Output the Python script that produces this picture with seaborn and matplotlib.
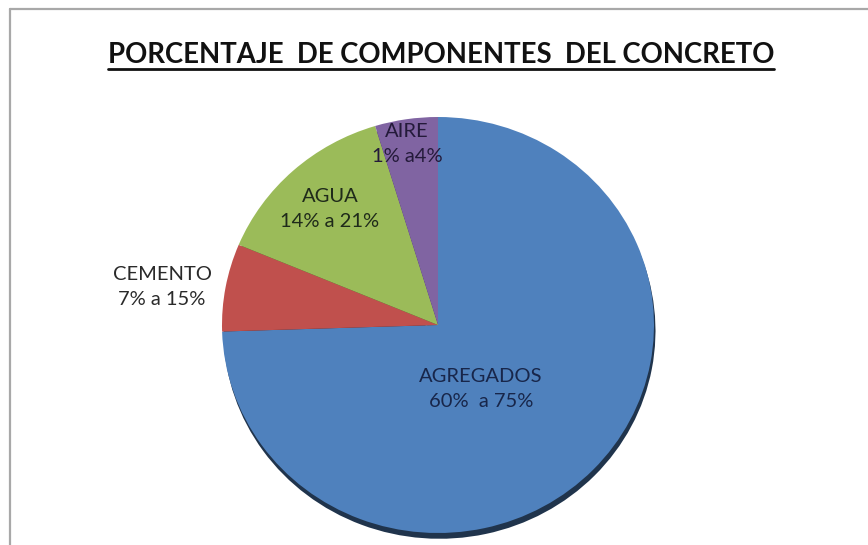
import matplotlib
matplotlib.use("Agg")
import matplotlib.pyplot as plt
import seaborn as sns
from matplotlib.lines import Line2D

sns.set_theme(style="white")
plt.rcParams['font.family'] = ['Lato', 'DejaVu Sans']

categories = ["AGREGADOS", "CEMENTO", "AGUA", "AIRE"]
values = [74.5, 6.8, 14.0, 4.7]
ranges = ["60%  a 75%", "7% a 15%", "14% a 21%", "1% a4%"]
colors = ["#4F81BD", "#C0504D", "#9BBB59", "#8064A2"]
title = "PORCENTAJE  DE COMPONENTES  DEL CONCRETO"

W, H = 868, 545
fig = plt.figure(figsize=(W / 100, H / 100), dpi=100)
fig.patch.set_facecolor("white")

# border (top and left only visible)
bx, by = 10 / W, 1 - 9 / H
fig.add_artist(Line2D([bx, 1.0], [by, by], transform=fig.transFigure, color="#a8a8a8", linewidth=1.6))
fig.add_artist(Line2D([bx, bx], [0.0, by], transform=fig.transFigure, color="#a8a8a8", linewidth=1.6))

cx, cy, rx, ry = 438, 325, 216, 208
ax = fig.add_axes([(cx - rx) / W, (H - cy - ry) / H, 2 * rx / W, 2 * ry / H])
ax.pie(values, colors=colors, startangle=90, counterclock=False, radius=1.0,
       wedgeprops=dict(linewidth=0),
       shadow=dict(ox=0.005, oy=-0.02, shade=0.6, alpha=1.0))
ax.set_xlim(-1, 1)
ax.set_ylim(-1, 1)
ax.set_aspect("auto")
ax.axis("off")

def to_ax(px, py):
    return ((px - (cx - rx)) / (2 * rx), 1 - (py - (cy - ry)) / (2 * ry))

label_pos = {"AGREGADOS": (481, 389), "CEMENTO": (162, 287), "AGUA": (330, 209), "AIRE": (407, 144)}
label_col = {"AGREGADOS": "#18264a", "CEMENTO": "#2a2a2a", "AGUA": "#1f2a1a", "AIRE": "#241a3a"}
for cat, rng in zip(categories, ranges):
    x, y = to_ax(*label_pos[cat])
    ax.text(x, y, f"{cat}\n{rng}", transform=ax.transAxes, ha="center", va="center",
            fontsize=14.5, color=label_col[cat], linespacing=1.6, clip_on=False)

renderer = fig.canvas.get_renderer()
fs = 24
t = fig.text(441 / W, 1 - 55 / H, title, ha="center", va="center", fontsize=fs,
             fontweight="bold", color="#111111")
bb = t.get_window_extent(renderer=renderer)
t.set_fontsize(fs * 668 / bb.width)
fig.canvas.draw()
bb = t.get_window_extent(renderer=renderer)
inv = fig.transFigure.inverted()
(x0, y0), (x1, y1) = inv.transform([(bb.x0, bb.y0), (bb.x1, bb.y1)])
fig.add_artist(Line2D([x0, x1], [y0 - 0.002, y0 - 0.002], transform=fig.transFigure,
                      color="#111111", linewidth=2.0))

fig.savefig("out.png", dpi=100, facecolor="white")
